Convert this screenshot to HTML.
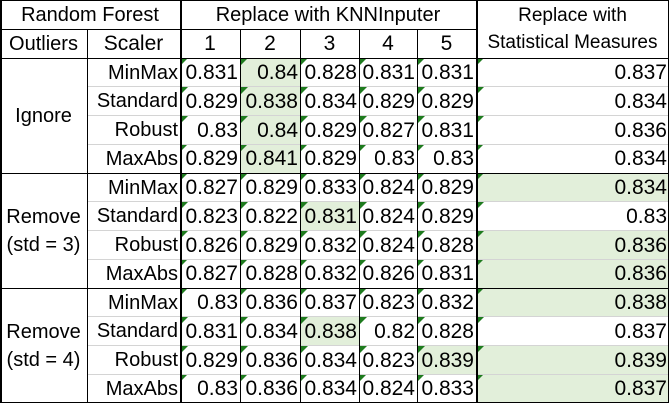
<!DOCTYPE html>
<html><head><meta charset="utf-8">
<style>
body{margin:0;width:669px;height:403px;background:#fff;overflow:hidden;font-family:"Liberation Sans",sans-serif;}
#t{position:relative;width:669px;height:403px;}
.c{position:absolute;box-sizing:border-box;font-size:21px;color:#000;white-space:nowrap;display:flex;align-items:center;line-height:1;}
.hl{background:#e2efda;}
.tri{position:absolute;left:0;top:0;width:0;height:0;border-top:8px solid #1e7b1e;border-right:8px solid transparent;}
.ln{position:absolute;}
</style></head><body>
<div id="t"></div>
<script>
const outliers=["Ignore","Remove\n(std = 3)","Remove\n(std = 4)"];
const scalers=["MinMax","Standard","Robust","MaxAbs"];
const knnHeaders=["1","2","3","4","5"];
const values=[
["0.831","0.84","0.828","0.831","0.831","0.837"],
["0.829","0.838","0.834","0.829","0.829","0.834"],
["0.83","0.84","0.829","0.827","0.831","0.836"],
["0.829","0.841","0.829","0.83","0.83","0.834"],
["0.827","0.829","0.833","0.824","0.829","0.834"],
["0.823","0.822","0.831","0.824","0.829","0.83"],
["0.826","0.829","0.832","0.824","0.828","0.836"],
["0.827","0.828","0.832","0.826","0.831","0.836"],
["0.83","0.836","0.837","0.823","0.832","0.838"],
["0.831","0.834","0.838","0.82","0.828","0.837"],
["0.829","0.836","0.834","0.823","0.839","0.839"],
["0.83","0.836","0.834","0.824","0.833","0.837"]];
const highlights=[[0,1],[1,1],[2,1],[3,1],[4,5],[5,2],[6,5],[7,5],[8,5],[9,2],[10,4],[10,5],[11,5]];
const xs=[0,87,180,240,300,359,417,476,669];
const rowY=i=>58+i*28.75;
const T=document.getElementById('t');
function cell(x,y,w,h,txt,align,pad,fs){
  const d=document.createElement('div');d.className='c';
  d.style.left=x+'px';d.style.top=y+'px';d.style.width=w+'px';d.style.height=h+'px';
  d.style.justifyContent=align;if(pad)d.style.paddingRight=pad+'px';
  if(fs)d.style.fontSize=fs+'px';
  if(txt.includes('\n')){d.style.flexDirection='column';d.style.justifyContent='center';d.style.alignItems='center';d.style.gap='8px';d.innerHTML=txt.split('\n').map(s=>'<span>'+s+'</span>').join('');}
  else d.textContent=txt;
  T.appendChild(d);return d;
}
function line(x,y,w,h,col){const l=document.createElement('div');l.className='ln';l.style.left=x+'px';l.style.top=y+'px';l.style.width=w+'px';l.style.height=h+'px';l.style.background=col;T.appendChild(l);return l;}
highlights.forEach(([r,c])=>{const d=document.createElement('div');d.className='c hl';d.style.left=xs[c+2]+'px';d.style.top=rowY(r)+'px';d.style.width=(xs[c+3]-xs[c+2])+'px';d.style.height='29px';T.appendChild(d);

});
let h;
h=cell(0,0,180,29,"Random Forest","center",0,20);


h=cell(180,0,296,29,"Replace with KNNInputer","center",0,20);


h=cell(476,0,193,58,"Replace with\nStatistical Measures","center",0,19);


h=cell(0,29,87,29,"Outliers","center",0,20);


h=cell(87,29,93,29,"Scaler","center");


knnHeaders.forEach((k,i)=>{const e=cell(xs[i+2],29,xs[i+3]-xs[i+2],29,k,"center");

});
outliers.forEach((o,g)=>{const e=cell(0,rowY(g*4),87,115,o,"center",0,20);

});
values.forEach((row,r)=>{
  const s=cell(87,rowY(r),93,29,scalers[r%4],"flex-end",2,20);
  
  
  row.forEach((v,c)=>{
    const e=cell(xs[c+2],rowY(r),xs[c+3]-xs[c+2],29,v,"flex-end",2);
    
    
    const t=document.createElement('div');t.className='tri';e.appendChild(t);
  });
});
for(let r=1;r<12;r++){if(r%4==0)continue;line(87,rowY(r)-0.5,582,1,'#d4d4d4');}
line(0,0,669,1,'#000');
line(0,28.5,476,1,'#000');
[58,173,288].forEach(y=>line(0,y-0.5,669,1.5,'#000'));
line(0,401.5,669,1.5,'#000');
[0,180,476].forEach(x=>line(x,0,1.5,403,'#000'));
line(667.5,0,1.5,403,'#000');
[87,240,300,359,417].forEach(x=>line(x-0.5,29,1.5,374,'#000'));
</script>
</body></html>
